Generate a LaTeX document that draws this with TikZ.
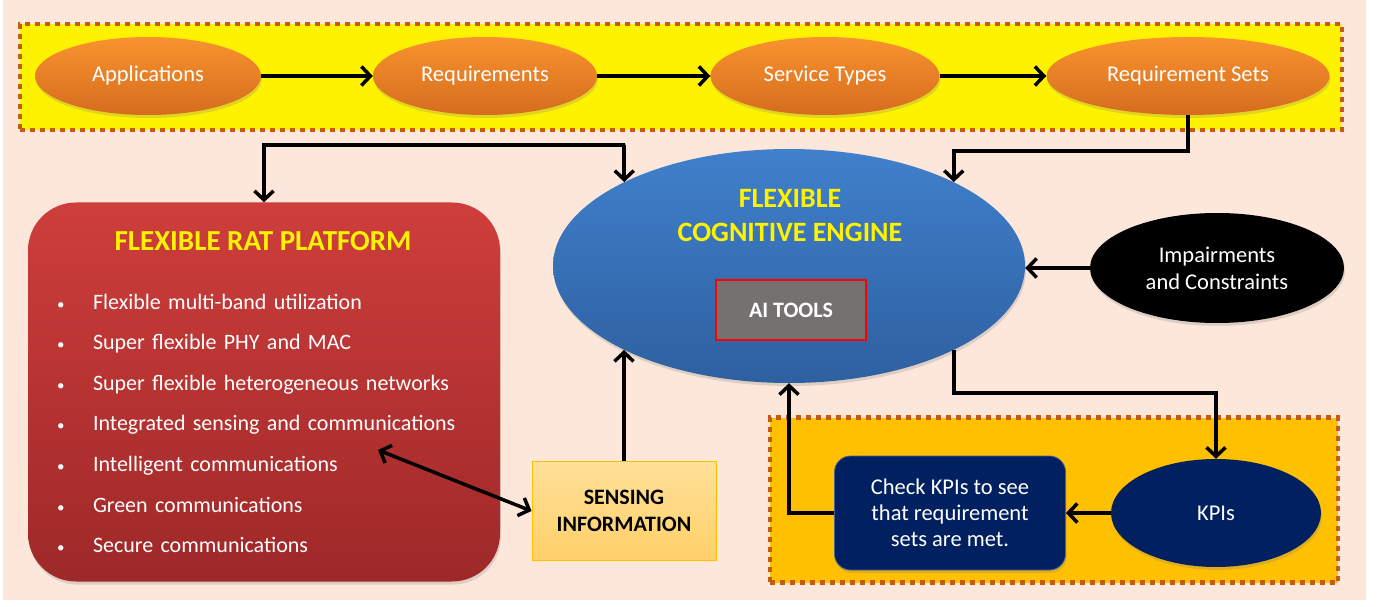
\documentclass[tikz,border=0pt]{standalone}
\usepackage{fontspec}
\setmainfont{Carlito}
\usepackage{xcolor}
\usepackage{tikz}
\usetikzlibrary{shapes.geometric,arrows.meta,positioning,shadows}

\definecolor{peach}{RGB}{253,231,218}
\definecolor{dotorange}{RGB}{197,90,17}
\definecolor{ovtop}{RGB}{249,147,46}
\definecolor{ovbot}{RGB}{213,108,30}
\definecolor{engtop}{RGB}{64,128,204}
\definecolor{engbot}{RGB}{46,96,160}
\definecolor{rattop}{RGB}{206,62,60}
\definecolor{ratbot}{RGB}{158,40,40}
\definecolor{navy}{RGB}{0,32,96}
\definecolor{gold}{RGB}{255,192,0}
\definecolor{sensetop}{RGB}{255,224,152}
\definecolor{sensebot}{RGB}{255,208,104}
\definecolor{aigray}{RGB}{118,113,113}

\tikzset{
  band/.style={draw=dotorange, line width=4.5pt, dash pattern=on 5pt off 5pt, inner sep=0pt},
  flow/.style={ellipse, inner sep=0pt, minimum width=226pt, minimum height=78pt,
    top color=ovtop, bottom color=ovbot, text=white, font=\fontsize{22.5}{26}\selectfont,
    drop shadow={opacity=0.25, shadow xshift=1pt, shadow yshift=-3pt}},
  darkoval/.style={ellipse, inner sep=0pt, fill=navy, text=white, align=center,
    font=\fontsize{22.5}{27}\selectfont,
    drop shadow={opacity=0.25, shadow xshift=1pt, shadow yshift=-3pt}},
  item/.style={text=white, inner sep=0pt, text width=400pt, align=left,
    text height=15pt, text depth=5pt, font=\fontsize{22}{26}\selectfont,
    execute at begin node={\makebox[36pt][l]{\fontsize{15}{15}\selectfont\textbullet}}},
  arr/.style={-{Straight Barb[length=9pt,width=19pt]}, line width=3.5pt},
  dblarr/.style={{Straight Barb[length=9pt,width=19pt]}-{Straight Barb[length=9pt,width=19pt]}, line width=3.5pt},
}

\begin{document}
\begin{tikzpicture}[x=1pt, y=-1pt]
  \useasboundingbox (0,0) rectangle (1377,607);
  \fill[white] (0,0) rectangle (1377,607);
  \fill[peach] (3,0) rectangle (1366,600);

  % input chain
  \node[band, fill=yellow, minimum width=1322pt, minimum height=106pt] (inputs) at (681,77) {} ; %
  \node[flow] (apps) at (148,76) {Applications} ; %
  \node[flow, minimum width=224pt] (req) at (485,76) {Requirements} ; %
  \node[flow, minimum width=229pt] (serv) at (825,76) {Service Types} ; %
  \node[flow, minimum width=283pt] (rsets) at (1188,76) {Requirement Sets} ; %

  % KPI check
  \node[band, fill=gold, minimum width=568pt, minimum height=165pt] (kpiband) at (1054,500) {} ; %

  % RAT platform
  \node[rounded corners=48pt, top color=rattop, bottom color=ratbot, minimum width=472pt,
    minimum height=379pt, drop shadow={opacity=0.25, shadow xshift=1pt, shadow yshift=-3pt}] (rat) at (264,392) {} ; %
  \node[text=yellow, font=\fontsize{29}{32}\bfseries] (rattitle) at (263,241) {FLEXIBLE RAT PLATFORM} ; %
  \node[item] (i1) at (257,304) {Flexible multi-band utilization} ; %
  \node[item, below=20.2pt of i1] (i2) {Super flexible PHY and MAC} ; %
  \node[item, below=20.2pt of i2] (i3) {Super flexible heterogeneous networks} ; %
  \node[item, below=20.2pt of i3] (i4) {Integrated sensing and communications} ; %
  \node[item, below=20.2pt of i4] (i5) {Intelligent communications} ; %
  \node[item, below=20.2pt of i5] (i6) {Green communications} ; %
  \node[item, below=20.2pt of i6] (i7) {Secure communications} ; %
  \coordinate (ratlink) at (378,450) ; %

  % cognitive engine
  \node[ellipse, inner sep=0pt, minimum width=472pt, minimum height=234pt, top color=engtop,
    bottom color=engbot, drop shadow={opacity=0.25, shadow xshift=1pt, shadow yshift=-3pt}] (engine) at (789,266) {} ; %
  \node[text=yellow, align=center, font=\fontsize{28}{34}\bfseries] (engtitle) at (790,216) {FLEXIBLE\\COGNITIVE ENGINE} ; %
  \node[draw=red, line width=2.5pt, fill=aigray, text=white, minimum width=150pt, minimum height=60pt,
    font=\fontsize{22}{26}\bfseries] (ai) at (791,310) {AI TOOLS} ; %
  \node[darkoval, fill=black, minimum width=254pt, minimum height=110pt] (imp) at (1217,268) {Impairments\\and Constraints} ; %

  \node[darkoval, minimum width=210pt, minimum height=108pt] (kpi) at (1216,513) {KPIs} ; %
  \node[draw=navy!70!white, line width=0.8pt, fill=navy, rounded corners=16pt, text=white, align=center,
    minimum width=231pt, minimum height=114pt, font=\fontsize{22.5}{26}\selectfont,
    drop shadow={opacity=0.25, shadow xshift=1pt, shadow yshift=-3pt}] (check) at (950,513) {Check KPIs to see\\that requirement\\sets are met.} ; %
  \node[draw=gold, line width=1pt, top color=sensetop, bottom color=sensebot, align=center,
    minimum width=184pt, minimum height=99pt, font=\fontsize{22}{27}\bfseries] (sense) at (624,511) {SENSING\\INFORMATION} ; %

  \draw[arr] (apps) -- (req) ;
  \draw[arr] (req) -- (serv) ;
  \draw[arr] (serv) -- (rsets) ;
  \draw[arr] (rsets.south) -- ++(0,36) -| (engine.27) ;
  \draw[dblarr] (rat.north) |- (625,145) -| (engine.153) ;
  \draw[arr] (imp.west) -- (imp.west -| engine.east) ;
  \draw[arr] (engine.-27) -- ++(0,43) -| (kpi.north) ;
  \draw[arr] (kpi.west) -- (check.east) ;
  \draw[arr] (check.west) -| (engine.south) ;
  \draw[arr] (sense.north) -- (sense.north |- engine.207) ;
  \draw[dblarr] (ratlink) -- (sense.west) ;
\end{tikzpicture}
\end{document}
